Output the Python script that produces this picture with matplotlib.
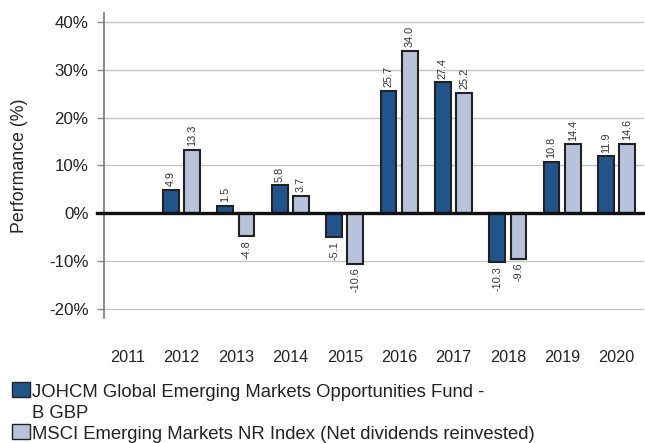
import matplotlib
matplotlib.use("Agg")
import matplotlib.pyplot as plt
from matplotlib.patches import Rectangle
import numpy as np

plt.rcParams["font.family"] = ["Liberation Sans", "DejaVu Sans"]

# ── Donnees ────────────────────────────────────────────────────────────────
years = ["2011", "2012", "2013", "2014", "2015", "2016", "2017", "2018", "2019", "2020"]
fund = [np.nan, 4.9, 1.5, 5.8, -5.1, 25.7, 27.4, -10.3, 10.8, 11.9]
index = [np.nan, 13.3, -4.8, 3.7, -10.6, 34.0, 25.2, -9.6, 14.4, 14.6]
fund_label = ["JOHCM Global Emerging Markets Opportunities Fund -", "B GBP"]
index_label = ["MSCI Emerging Markets NR Index (Net dividends reinvested)"]

FUND_COLOR = "#22548c"
INDEX_COLOR = "#b9c2db"
EDGE = "#222222"

W_PX, H_PX = 645, 443
fig = plt.figure(figsize=(W_PX / 100, H_PX / 100), dpi=100)
ax = fig.add_axes([0.161, 0.282, 0.837, 0.689])

x = np.arange(len(years))
w = 0.29
off = 0.195

for xs, vals, col in [(x - off, fund, FUND_COLOR), (x + off, index, INDEX_COLOR)]:
    ax.bar(xs, vals, width=w, color=col, edgecolor=EDGE, linewidth=1.5, zorder=3)
    for xi, v in zip(xs, vals):
        if np.isnan(v):
            continue
        if v >= 0:
            ax.text(xi, v + 0.8, f"{v:.1f}", rotation=90, ha="center", va="bottom",
                    fontsize=7.8, color="#333333")
        else:
            ax.text(xi, v - 0.8, f"{v:.1f}", rotation=90, ha="center", va="top",
                    fontsize=7.8, color="#333333")

# ligne du zero, un peu a gauche de l'axe comme dans l'original
ax.axhline(0, xmin=-0.013, color="#111111", linewidth=2.4, zorder=4, clip_on=False)

ax.set_xlim(-0.43, 9.5)
ax.set_ylim(-22, 42)
ax.set_yticks([-20, -10, 0, 10, 20, 30, 40])
ax.set_yticklabels([f"{t}%" for t in [-20, -10, 0, 10, 20, 30, 40]],
                   fontsize=12.2, color="#222222")
ax.set_xticks(x)
ax.set_xticklabels(years, fontsize=11.7, color="#222222")
ax.tick_params(axis="x", length=0, pad=23)
ax.tick_params(axis="y", length=5, color="#888888", width=1, pad=6)
ax.grid(True, axis="y", color="#c4c4c4", linewidth=1, zorder=0)

for s in ["top", "right", "bottom"]:
    ax.spines[s].set_visible(False)
ax.spines["left"].set_color("#777777")
ax.spines["left"].set_linewidth(1.2)

ax.set_ylabel("Performance (%)", fontsize=12.8, color="#222222")
ax.yaxis.set_label_coords(-0.141, 0.5)

# ── Legende manuelle (carre aligne sur la 1re ligne du texte) ───────────────
def fx(px):
    return px / W_PX

def fy(py):
    return 1 - py / H_PX

LINE_H = 21
for top, col, lines in [(382, FUND_COLOR, fund_label), (424, INDEX_COLOR, index_label)]:
    fig.patches.append(Rectangle((fx(12), fy(top + 15)), fx(18), 15 / H_PX,
                                 transform=fig.transFigure, facecolor=col,
                                 edgecolor=EDGE, linewidth=1.0))
    for i, line in enumerate(lines):
        fig.text(fx(32), fy(top + 15 + i * LINE_H), line, fontsize=13.3,
                 color="#222222", va="baseline", ha="left")

plt.savefig("out.png", dpi=100)
plt.close()
